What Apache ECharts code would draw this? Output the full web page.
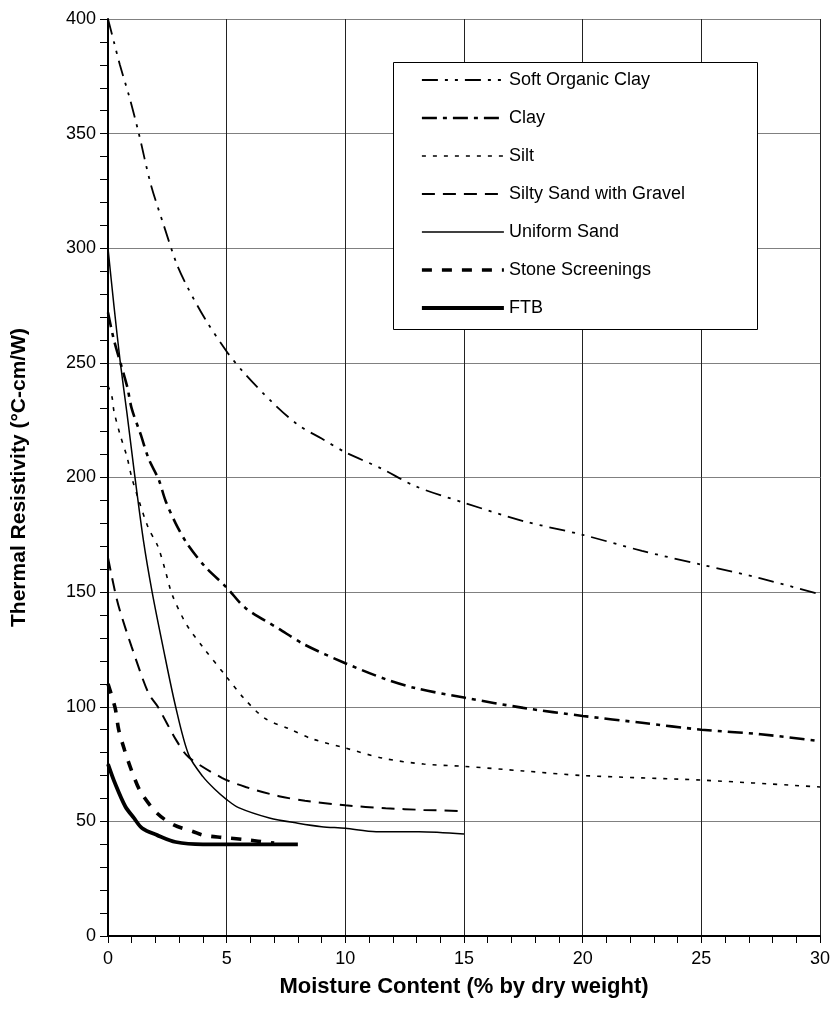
<!DOCTYPE html>
<html>
<head>
<meta charset="utf-8">
<script src="https://cdn.jsdelivr.net/npm/echarts@6/dist/echarts.min.js"></script>
<style>
html,body{margin:0;padding:0;background:#fff;}
#chart{width:840px;height:1021px;}
</style>
</head>
<body>
<div id="chart"></div>
<script>
// ---- Data ----
const seriesNames = ["Soft Organic Clay", "Clay", "Silt", "Silty Sand with Gravel", "Uniform Sand", "Stone Screenings", "FTB"];

const softOrganicClayX = [0, 0.25, 0.5, 0.9, 1.3, 1.8, 2.35, 2.9, 3.35, 4.1, 5, 5.7, 6.9, 8, 9, 10, 11.5, 13, 15, 17.5, 20, 22.5, 25, 27.5, 30];
const softOrganicClayY = [400, 390, 380, 366, 350, 328, 310, 293, 283, 269, 255, 246, 233, 223, 217, 211, 204, 196, 189, 181, 175, 168, 162, 156, 149];

const clayX = [0, 0.25, 0.8, 1.0, 1.37, 1.72, 2.14, 2.42, 2.85, 3.34, 4.1, 5, 5.8, 7.2, 8.3, 10, 11.7, 13, 15, 17.5, 20, 22.5, 25, 27.5, 30];
const clayY = [272, 260, 240, 230, 219, 208, 199, 190, 180, 171, 161, 152, 143, 134, 127, 119, 112, 108, 104, 99.5, 96, 93, 90, 88, 85];

const siltX = [0, 0.17, 0.25, 0.5, 0.8, 1, 1.3, 1.7, 2.1, 2.4, 2.7, 3.3, 4, 5, 5.7, 6.6, 7.6, 8.6, 10, 11.6, 13.3, 15, 17.5, 20, 25, 30];
const siltY = [240, 235, 229, 219, 209, 200, 190, 178, 170, 160, 149, 136, 126, 113, 104, 95, 90.5, 86, 82, 77.5, 75, 74, 72, 70, 68, 65];

const siltySandX = [0, 0.3, 0.5, 1, 1.7, 2.1, 2.9, 3.4, 4.8, 5.8, 7.2, 8.3, 10, 11.7, 13.3, 15];
const siltySandY = [165, 150, 142, 126, 106, 100, 85, 78, 69, 65, 61, 59, 57, 55.7, 55, 54.5];

const uniformSandX = [0, 0.25, 0.52, 0.8, 1.1, 1.5, 1.86, 2.3, 2.85, 3.4, 4, 4.5, 5, 5.5, 6.8, 8, 9, 10, 11.3, 13.1, 15];
const uniformSandY = [300, 275, 250, 228, 203, 172, 150, 127, 100, 79, 69.5, 64, 59.5, 56, 51.5, 49.2, 47.7, 47, 45.5, 45.5, 44.5];

const stoneX = [0, 0.3, 0.45, 0.7, 1, 1.37, 2.07, 2.77, 3.6, 4, 4.8, 5.8, 7];
const stoneY = [110, 99.5, 90, 81, 72, 63, 53.5, 48.5, 45.5, 44, 43, 42, 40.5];

const ftbX = [0, 0.3, 0.73, 1.09, 1.44, 2.07, 2.85, 4, 5, 6, 7, 8];
const ftbY = [75, 66.5, 56.5, 51.5, 47, 44, 41, 40, 40, 40, 40, 40];

const xTicks = [0, 5, 10, 15, 20, 25, 30];
const yTicks = [0, 50, 100, 150, 200, 250, 300, 350, 400];

const xTitle = "Moisture Content (% by dry weight)";
const yTitle = "Thermal Resistivity (°C-cm/W)";

// ---- Build ----
function pairs(xs, ys) { return xs.map((x, i) => [x, ys[i]]); }
const allData = [
  pairs(softOrganicClayX, softOrganicClayY),
  pairs(clayX, clayY),
  pairs(siltX, siltY),
  pairs(siltySandX, siltySandY),
  pairs(uniformSandX, uniformSandY),
  pairs(stoneX, stoneY),
  pairs(ftbX, ftbY)
];
const styles = [
  { width: 1.8, type: [16, 7, 3, 7, 3, 7] },
  { width: 2.6, type: [15, 6, 4, 6] },
  { width: 1.6, type: [4, 7] },
  { width: 2, type: [13, 8] },
  { width: 1.5, type: 'solid' },
  { width: 3.6, type: [10, 10] },
  { width: 3.8, type: 'solid' }
];

const FONT = "'Liberation Sans', Arial, Helvetica, sans-serif";

const chart = echarts.init(document.getElementById('chart'), null, { renderer: 'canvas' });
chart.setOption({
  animation: false,
  backgroundColor: '#fff',
  textStyle: { fontFamily: FONT, color: '#000' },
  grid: { left: 108, right: 20, top: 19, bottom: 85, containLabel: false },
  xAxis: {
    type: 'value', min: 0, max: 30, interval: 5,
    name: xTitle, nameLocation: 'middle', nameGap: 40,
    nameTextStyle: { fontFamily: FONT, fontSize: 22, fontWeight: 'bold', color: '#000' },
    axisLine: { show: true, onZero: false, lineStyle: { color: '#000', width: 2 } },
    axisTick: { show: true, inside: false, length: 7, lineStyle: { color: '#000', width: 1 } },
    minorTick: { show: true, splitNumber: 5, length: 7, lineStyle: { color: '#000', width: 1 } },
    axisLabel: { fontSize: 18, color: '#000', margin: 14, fontFamily: FONT,
      formatter: v => xTicks.includes(v) ? String(v) : '' },
    splitLine: { show: true, lineStyle: { color: '#222', width: 1 } }
  },
  yAxis: {
    type: 'value', min: 0, max: 400, interval: 50,
    name: yTitle, nameLocation: 'middle', nameGap: 78, nameRotate: 90,
    nameTextStyle: { fontFamily: FONT, fontSize: 21, fontWeight: 'bold', color: '#000' },
    axisLine: { show: true, onZero: false, lineStyle: { color: '#000', width: 2 } },
    axisTick: { show: true, inside: false, length: 8, lineStyle: { color: '#000', width: 1 } },
    minorTick: { show: true, splitNumber: 5, length: 8, lineStyle: { color: '#000', width: 1 } },
    axisLabel: { fontSize: 18, color: '#000', margin: 12, fontFamily: FONT,
      formatter: v => yTicks.includes(v) ? String(v) : '' },
    splitLine: { show: true, lineStyle: { color: '#808080', width: 1 } }
  },
  legend: {
    show: true, orient: 'vertical', left: 393, top: 62,
    padding: [8, 14, 10, 27],
    itemWidth: 82, itemHeight: 14, itemGap: 18, itemTextGap: 6,
    textStyle: { fontFamily: FONT, fontSize: 18, color: '#000', lineHeight: 20 },
    itemStyle: { opacity: 0 },
    lineStyle: { width: 'inherit', type: 'inherit', color: '#000' },
    data: seriesNames,
    z: 20
  },
  graphic: [{
    type: 'rect', left: 393, top: 62, z: 10,
    shape: { width: 364, height: 267 },
    style: { fill: '#fff', stroke: '#000', lineWidth: 1 }
  }],
  series: seriesNames.map((n, i) => ({
    name: n, type: 'line', data: allData[i], smooth: 0.3,
    symbol: 'none', showSymbol: false,
    lineStyle: { color: '#000', width: styles[i].width, type: styles[i].type },
    itemStyle: { color: '#000' },
    z: 3
  }))
});
</script>
</body>
</html>
